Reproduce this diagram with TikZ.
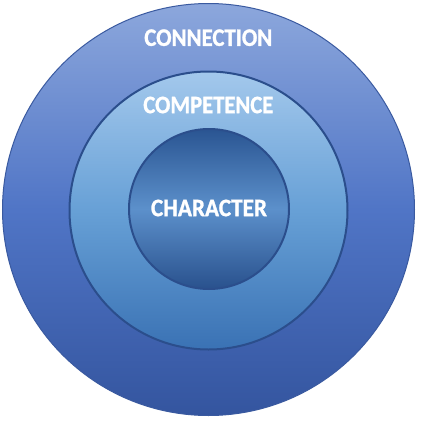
\documentclass[tikz,border=0pt]{standalone}
\usepackage{fontspec}
\setmainfont{Carlito}
\newfontfamily\labelfont{Carlito Bold}[FakeBold=1.2]
\definecolor{ringline}{HTML}{2B4E8C}
\definecolor{outerline}{HTML}{3A5AA0}
\definecolor{outtop}{HTML}{8CA7DC}
\definecolor{outmid}{HTML}{5075C6}
\definecolor{outbot}{HTML}{34559F}
\definecolor{midtop}{HTML}{A3C8EC}
\definecolor{midmid}{HTML}{67A0D6}
\definecolor{midbot}{HTML}{3A72B4}
\definecolor{intop}{HTML}{2A5592}
\definecolor{inmid}{HTML}{5C90CB}
\definecolor{inbot}{HTML}{29518D}
\newcommand{\ringlabel}[2]{\resizebox{#1}{16.5pt}{\labelfont #2}}
\tikzset{
  ring/.style={circle, inner sep=0pt, shading=axis, shading angle=0},
  lbl/.style={inner sep=0pt, text=white, anchor=center}
}
\begin{document}
\begin{tikzpicture}[x=1pt,y=-1pt]
\useasboundingbox[fill=white] (0,0) rectangle (424,424);
\node[ring, minimum size=412pt, draw=outerline, line width=1pt,
      top color=outtop, bottom color=outbot, middle color=outmid] (outer) at (208.5,209.5) {};
\node[ring, minimum size=278pt, draw=ringline, line width=2pt,
      top color=midtop, bottom color=midbot, middle color=midmid] (middle) at (208.5,210.5) {};
\node[ring, minimum size=160pt, draw=ringline, line width=2pt,
      top color=intop, bottom color=inbot, middle color=inmid] (inner) at (209,209) {};
\node[lbl] (connection) at (208.3,37.7) {\ringlabel{128pt}{CONNECTION}};
\node[lbl] (competence) at (208.3,105) {\ringlabel{130pt}{COMPETENCE}};
\node[lbl] (character) at (209,208) {\ringlabel{116pt}{CHARACTER}};
\end{tikzpicture}
\end{document}
